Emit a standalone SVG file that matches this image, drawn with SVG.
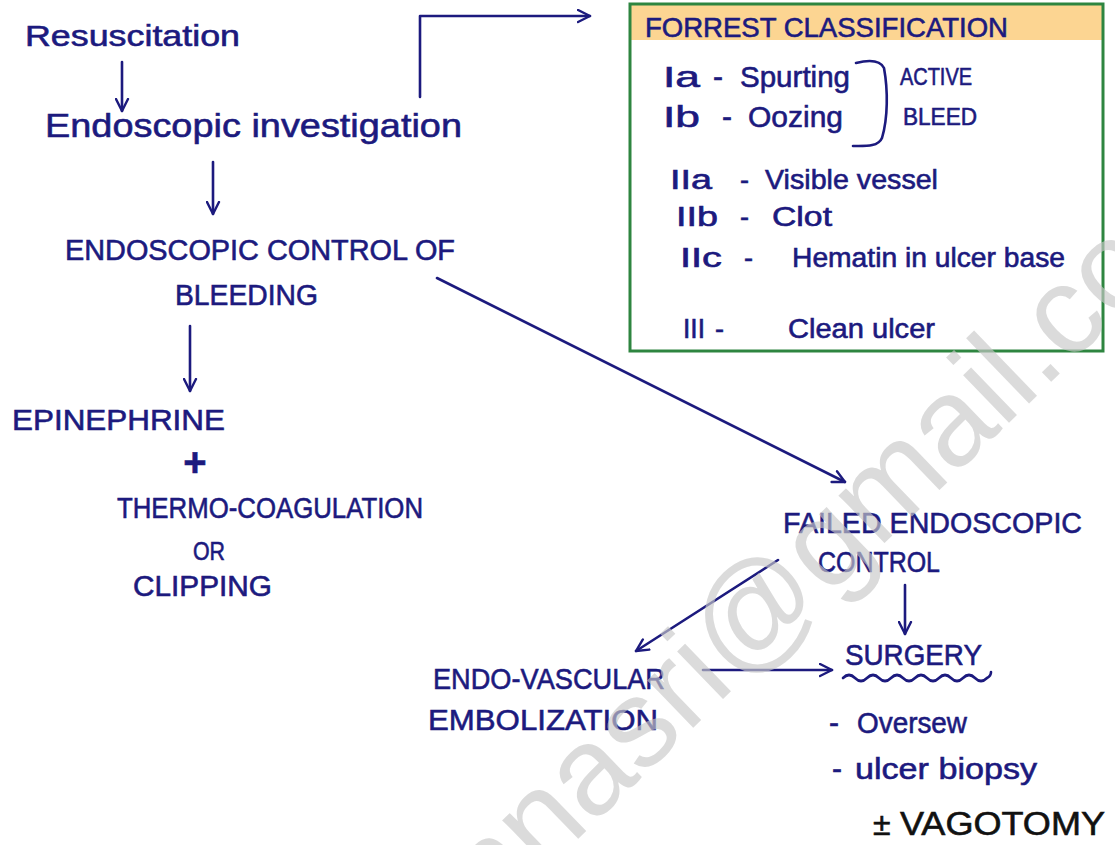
<svg xmlns="http://www.w3.org/2000/svg" width="1115" height="845" viewBox="0 0 1115 845">
  <style>
    .t { font-family: "Liberation Sans", "DejaVu Sans", sans-serif; fill: #1c1a7e; stroke: #1c1a7e; stroke-width: 0.6; }
    .k { fill: #111; stroke: #111; }
    .line { fill: none; stroke: #1c1a7e; stroke-width: 2.6; stroke-linecap: round; stroke-linejoin: round; }
    .mark { font-family: "Liberation Sans", "DejaVu Sans", sans-serif; fill: #c9c9c9; opacity: 0.65; }
  </style>
  <defs>
    <marker id="arrow" viewBox="0 0 10 10" refX="9" refY="5" markerWidth="15" markerHeight="15" markerUnits="userSpaceOnUse" orient="auto">
      <path d="M1,1 L9,5 L1,9" fill="none" stroke="#1c1a7e" stroke-width="1.6" stroke-linecap="round" stroke-linejoin="round"/>
    </marker>
  </defs>

  <rect width="1115" height="845" fill="#ffffff"/>

  <!-- Forrest classification panel -->
  <g id="forrest">
    <rect x="630" y="4" width="473" height="347" fill="#ffffff"/>
    <rect x="630" y="4" width="473" height="36" fill="#fcd592"/>
    <rect x="630" y="4" width="473" height="347" fill="none" stroke="#2e8540" stroke-width="3"/>
    <text class="t" x="645" y="37" font-size="27" textLength="363" lengthAdjust="spacingAndGlyphs">FORREST CLASSIFICATION</text>
    <text class="t" x="663" y="87" font-size="30" textLength="37" lengthAdjust="spacingAndGlyphs">Ia</text>
    <text class="t" x="713" y="87" font-size="30">-</text>
    <text class="t" x="740" y="87" font-size="30" textLength="110" lengthAdjust="spacingAndGlyphs">Spurting</text>
    <text class="t" x="663" y="127" font-size="30" textLength="37" lengthAdjust="spacingAndGlyphs">Ib</text>
    <text class="t" x="722" y="127" font-size="30">-</text>
    <text class="t" x="748" y="127" font-size="30" textLength="95" lengthAdjust="spacingAndGlyphs">Oozing</text>
    <path class="line" d="M856,63 C868,60 880,60 884,68 C888,90 888,118 882,138 C878,147 866,146 853,146"/>
    <text class="t" x="900" y="85" font-size="24" textLength="72" lengthAdjust="spacingAndGlyphs">ACTIVE</text>
    <text class="t" x="903" y="125" font-size="24" textLength="74" lengthAdjust="spacingAndGlyphs">BLEED</text>
    <text class="t" x="670" y="189" font-size="27" textLength="42" lengthAdjust="spacingAndGlyphs">IIa</text>
    <text class="t" x="740" y="189" font-size="27">-</text>
    <text class="t" x="765" y="189" font-size="27" textLength="173" lengthAdjust="spacingAndGlyphs">Visible vessel</text>
    <text class="t" x="676" y="226" font-size="27" textLength="42" lengthAdjust="spacingAndGlyphs">IIb</text>
    <text class="t" x="740" y="226" font-size="27">-</text>
    <text class="t" x="772" y="226" font-size="27" textLength="60" lengthAdjust="spacingAndGlyphs">Clot</text>
    <text class="t" x="680" y="267" font-size="27" textLength="42" lengthAdjust="spacingAndGlyphs">IIc</text>
    <text class="t" x="744" y="267" font-size="27">-</text>
    <text class="t" x="792" y="267" font-size="27" textLength="273" lengthAdjust="spacingAndGlyphs">Hematin in ulcer base</text>
    <text class="t" x="683" y="338" font-size="27" textLength="22" lengthAdjust="spacingAndGlyphs">III</text>
    <text class="t" x="715" y="338" font-size="27">-</text>
    <text class="t" x="788" y="338" font-size="27" textLength="147" lengthAdjust="spacingAndGlyphs">Clean ulcer</text>
  </g>

  <!-- connectors -->
  <g id="connectors">
    <path class="line" d="M122,62 V111" marker-end="url(#arrow)"/>
    <path class="line" d="M213,162 V214" marker-end="url(#arrow)"/>
    <path class="line" d="M190,326 V391" marker-end="url(#arrow)"/>
    <path class="line" d="M420,97 V16 H590" marker-end="url(#arrow)"/>
    <path class="line" d="M437,278 L845,482" marker-end="url(#arrow)"/>
    <path class="line" d="M778,560 L636,651" marker-end="url(#arrow)"/>
    <path class="line" d="M905,585 V634" marker-end="url(#arrow)"/>
    <path class="line" d="M703,670 H832" marker-end="url(#arrow)"/>
  </g>

  <g id="resuscitation">
    <text class="t" x="25" y="46" font-size="30" textLength="215" lengthAdjust="spacingAndGlyphs">Resuscitation</text>
  </g>
  <g id="investigation">
    <text class="t" x="45" y="137" font-size="34" textLength="417" lengthAdjust="spacingAndGlyphs">Endoscopic investigation</text>
  </g>
  <g id="control">
    <text class="t" x="65" y="260" font-size="29" textLength="390" lengthAdjust="spacingAndGlyphs">ENDOSCOPIC CONTROL OF</text>
    <text class="t" x="175" y="305" font-size="29" textLength="143" lengthAdjust="spacingAndGlyphs">BLEEDING</text>
  </g>
  <g id="therapy">
    <text class="t" x="12" y="430" font-size="29" textLength="213" lengthAdjust="spacingAndGlyphs">EPINEPHRINE</text>
    <text class="t" x="195" y="476" font-size="40" font-weight="bold" text-anchor="middle">+</text>
    <text class="t" x="117" y="518" font-size="29" textLength="306" lengthAdjust="spacingAndGlyphs">THERMO-COAGULATION</text>
    <text class="t" x="193" y="560" font-size="25" textLength="32" lengthAdjust="spacingAndGlyphs">OR</text>
    <text class="t" x="133" y="596" font-size="29" textLength="139" lengthAdjust="spacingAndGlyphs">CLIPPING</text>
  </g>
  <g id="failed">
    <text class="t" x="783" y="533" font-size="30" textLength="299" lengthAdjust="spacingAndGlyphs">FAILED ENDOSCOPIC</text>
    <text class="t" x="818" y="572" font-size="30" textLength="122" lengthAdjust="spacingAndGlyphs">CONTROL</text>
  </g>
  <g id="embolization">
    <text class="t" x="433" y="689" font-size="30" textLength="232" lengthAdjust="spacingAndGlyphs">ENDO-VASCULAR</text>
    <text class="t" x="428" y="730" font-size="30" textLength="230" lengthAdjust="spacingAndGlyphs">EMBOLIZATION</text>
  </g>
  <g id="surgery">
    <text class="t" x="845" y="665" font-size="30" textLength="137" lengthAdjust="spacingAndGlyphs">SURGERY</text>
    <path class="line" d="M843,678 q6,-6 12,0 t12,0 t12,0 t12,0 t12,0 t12,0 t12,0 t12,0 t12,0 t12,0 t12,0 t12,0 q4,-2 4,-6"/>
    <text class="t" x="829" y="733" font-size="30">-</text>
    <text class="t" x="857" y="733" font-size="30" textLength="110" lengthAdjust="spacingAndGlyphs">Oversew</text>
    <text class="t" x="832" y="779" font-size="30">-</text>
    <text class="t" x="855" y="779" font-size="30" textLength="182" lengthAdjust="spacingAndGlyphs">ulcer biopsy</text>
    <text class="t k" x="873" y="835" font-size="32">±</text>
    <text class="t k" x="900" y="835" font-size="34" textLength="205" lengthAdjust="spacingAndGlyphs">VAGOTOMY</text>
  </g>

  <!-- faint diagonal watermark laid over the drawing -->
  <text class="mark" x="0" y="0" font-size="125" transform="translate(492,922) rotate(-44)">nnasri@gmail.com</text>
</svg>
